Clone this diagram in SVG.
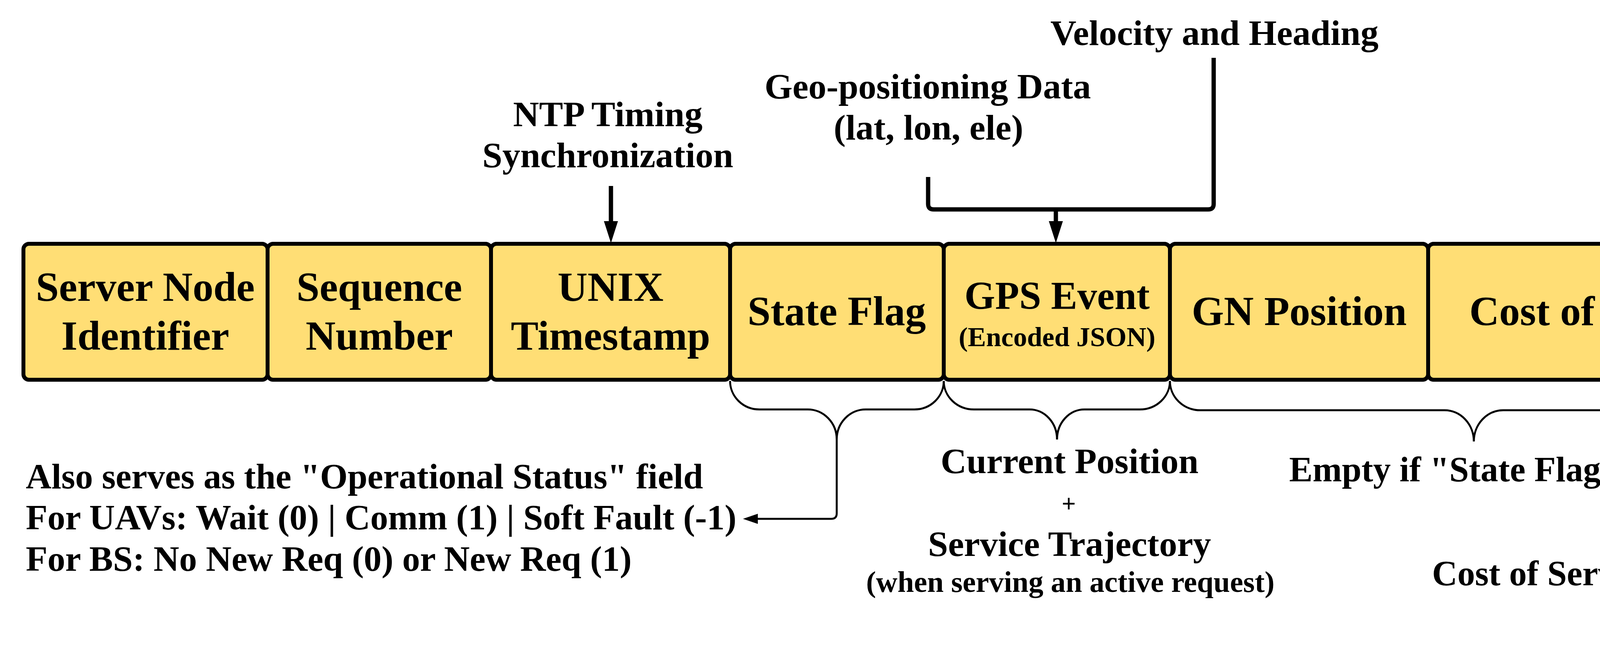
<svg xmlns="http://www.w3.org/2000/svg" width="6204" height="1697" viewBox="0 0 6204 1697">
<style>
.t{font-family:"Liberation Serif","Times New Roman",serif;font-weight:bold;fill:#000}
.c{text-anchor:middle}
.cell{fill:#FFDE75;stroke:#000;stroke-width:10}
.side{fill:#FFF6A0;stroke:#000;stroke-width:10}
.blk{fill:none;stroke:#000;stroke-width:11}
.gry{fill:none;stroke:#3A404A;stroke-width:12}
.brc{fill:none;stroke:#000;stroke-width:5}
.f106{font-size:106px}
.f92{font-size:92px}
.f91{font-size:91px}
</style>
<defs>
<marker id="ah" markerUnits="userSpaceOnUse" markerWidth="56" markerHeight="36" viewBox="0 0 56 36" refX="0" refY="18" orient="auto"><path d="M0,0 L56,18 L0,36 Z" fill="#000"/></marker>
<marker id="ahs" markerUnits="userSpaceOnUse" markerWidth="38" markerHeight="26" viewBox="0 0 38 26" refX="0" refY="13" orient="auto"><path d="M0,0 L38,13 L0,26 Z" fill="#000"/></marker>
<marker id="ahg" markerUnits="userSpaceOnUse" markerWidth="55" markerHeight="36" viewBox="0 0 55 36" refX="0" refY="18" orient="auto"><path d="M0,0 L55,18 L0,36 Z" fill="#3A404A"/></marker>
</defs>

<g id="connectors">
<path class="blk" d="M1564 476 L1564 566" marker-end="url(#ah)"/>
<path class="blk" stroke-width="12" d="M2376 453 L2376 522 Q2376 536 2390 536 L3093 536 Q3107 536 3107 522 L3107 148"/>
<path class="blk" stroke-width="12" d="M2703 536 L2703 566" marker-end="url(#ah)"/>
<path class="gry" d="M4854 591 L4713 591 Q4698 591 4698 606 L4698 784 Q4698 798 4684 798 L4606 798" marker-end="url(#ahg)"/>
<path class="gry" d="M4854 1053 L4713 1053 Q4698 1053 4698 1038 L4698 812 Q4698 798 4684 798 L4606 798"/>
<path class="brc" d="M1869 975 A75 73 0 0 0 1944 1048 L2068 1048 A74 77 0 0 1 2142 1125 A74 77 0 0 1 2216 1048 L2341 1048 A75 73 0 0 0 2416 975"/>
<path class="brc" d="M2142 1125 L2142 1314 Q2142 1328 2128 1328 L1940 1328" marker-end="url(#ahs)"/>
<path class="brc" d="M2416 975 A77 73 0 0 0 2493 1048 L2636 1048 A70 77 0 0 1 2706 1125 A70 77 0 0 1 2776 1048 L2918 1048 A77 73 0 0 0 2995 975"/>
<path class="brc" d="M2995 975 A77 75 0 0 0 3072 1050 L3698 1050 A75 80 0 0 1 3773 1130 A75 80 0 0 1 3848 1050 L4465 1050 A77 75 0 0 0 4542 975"/>
<path class="brc" stroke-width="4" d="M5088 1297 Q5070 1299 5070 1318 L5070 1442 Q5070 1466 5050 1470 Q5070 1474 5070 1498 L5070 1624 Q5070 1643 5088 1645"/>
</g>

<g id="label-ntp">
<text class="t c f92" x="1556" y="323">NTP Timing</text>
<text class="t c f92" x="1556" y="428">Synchronization</text>
</g>
<g id="label-geo">
<text class="t c f92" x="2375" y="252">Geo-positioning Data</text>
<text class="t c f92" x="2377" y="357">(lat, lon, ele)</text>
</g>
<g id="label-velocity">
<text class="t c f92" x="3109" y="115">Velocity and Heading</text>
</g>

<g id="cell-server-node">
<rect class="cell" x="60" y="624" width="625" height="348" rx="14"/>
<text class="t c f106" x="372" y="770">Server Node</text>
<text class="t c f106" x="372" y="895">Identifier</text>
</g>
<g id="cell-sequence">
<rect class="cell" x="685" y="624" width="572" height="348" rx="14"/>
<text class="t c f106" x="971" y="770">Sequence</text>
<text class="t c f106" x="971" y="895">Number</text>
</g>
<g id="cell-timestamp">
<rect class="cell" x="1257" y="624" width="612" height="348" rx="14"/>
<text class="t c f106" x="1563" y="770">UNIX</text>
<text class="t c f106" x="1563" y="895">Timestamp</text>
</g>
<g id="cell-state-flag">
<rect class="cell" x="1869" y="624" width="547" height="348" rx="14"/>
<text class="t c f106" x="2142" y="832">State Flag</text>
</g>
<g id="cell-gps">
<rect class="cell" x="2416" y="624" width="579" height="348" rx="14"/>
<text class="t c" font-size="101" x="2706" y="791">GPS Event</text>
<text class="t c" font-size="70" x="2706" y="886">(Encoded JSON)</text>
</g>
<g id="cell-gn-position">
<rect class="cell" x="2995" y="624" width="661" height="348" rx="14"/>
<text class="t c f106" x="3326" y="832">GN Position</text>
</g>
<g id="cell-cost">
<rect class="cell" x="3656" y="624" width="886" height="348" rx="14"/>
<text class="t c f106" x="4100" y="832">Cost of Service</text>
</g>

<g id="box-service-time">
<rect class="side" x="4854" y="443" width="1114" height="297" rx="14"/>
<text class="t c f92" x="5411" y="619">Expected Service Time</text>
</g>
<g id="box-energy">
<rect class="side" x="4854" y="906" width="1296" height="296" rx="14"/>
<text class="t c f92" x="5502" y="1081">Expected Energy Consumption</text>
</g>

<g id="note-state-flag">
<text class="t f91" x="66" y="1250">Also serves as the "Operational Status" field</text>
<text class="t f91" x="66" y="1355">For UAVs: Wait (0) | Comm (1) | Soft Fault (-1)</text>
<text class="t f91" x="66" y="1461">For BS: No New Req (0) or New Req (1)</text>
</g>
<g id="note-gps">
<text class="t c f92" x="2738" y="1211">Current Position</text>
<text class="t c" font-size="64" x="2736" y="1310">+</text>
<text class="t c f92" x="2738" y="1423">Service Trajectory</text>
<text class="t c" font-size="76" x="2740" y="1515">(when serving an active request)</text>
</g>
<g id="note-empty">
<text class="t c" font-size="90" x="3799" y="1232">Empty if "State Flag" is 0</text>
</g>
<g id="note-cost">
<text class="t" font-size="90" x="3666" y="1498">Cost of Service, if "State Flag" is 1</text>
<text class="t c f92" x="5610" y="1452">&gt; 0, can serve the request</text>
<text class="t c f92" x="5614" y="1557">= -1, otherwise</text>
</g>
</svg>
